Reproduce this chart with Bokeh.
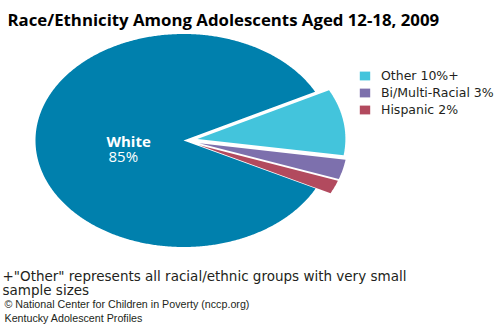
import numpy as np
from bokeh.plotting import figure
from bokeh.models import Range1d, Label, Legend, LegendItem, ColumnDataSource
from bokeh.embed import file_html
from bokeh.resources import INLINE

# ---- data ----
categories = ["White", "Other", "Bi/Multi-Racial", "Hispanic"]
values = [85, 10, 3, 2]
legend_labels = ["Other 10%+", "Bi/Multi-Racial 3%", "Hispanic 2%"]
colors = ["#0080ad", "#43c4dc", "#7d70ad", "#b24a5e"]
explode = [0.0, 0.095, 0.11, 0.11]
draw_order = [1, 2, 3, 0]          # clockwise from the start angle
start_angle_deg = 27.2

title_text = "Race/Ethnicity Among Adolescents Aged 12-18, 2009"
note_lines = ['+"Other" represents all racial/ethnic groups with very small', "sample sizes"]
credit_lines = ["\u00a9 National Center for Children in Poverty (nccp.org)", "Kentucky Adolescent Profiles"]

# ---- layout ----
W, H = 498, 324
CX, CY = 183, 140
RX, RY = 148, 106.5
x0 = -CX / RX
x1 = x0 + W / RX
y1 = CY / RY
y0 = y1 - H / RY

def px(x):
    return x0 + x / RX

def py(y):
    return y1 - y / RY

# ---- wedges as polygons in unit-circle data space ----
xs, ys, fills = [None] * 4, [None] * 4, [None] * 4
a = np.deg2rad(start_angle_deg)
for i in draw_order:
    span = 2 * np.pi * values[i] / sum(values)
    a_end = a - span
    mid = (a + a_end) / 2
    ox, oy = explode[i] * np.cos(mid), explode[i] * np.sin(mid)
    t = np.linspace(a, a_end, max(8, int(np.degrees(span) * 2)))
    xs[i] = [ox] + list(ox + np.cos(t))
    ys[i] = [oy] + list(oy + np.sin(t))
    fills[i] = colors[i]
    a = a_end

src = ColumnDataSource(dict(xs=xs, ys=ys, color=fills, cat=categories))

p = figure(width=W, height=H, output_backend="svg", toolbar_location=None,
           x_range=Range1d(x0, x1), y_range=Range1d(y0, y1), min_border=0)
p.axis.visible = False
p.grid.visible = False
p.outline_line_color = None
p.background_fill_color = "white"

r = p.patches("xs", "ys", source=src, fill_color="color", line_color=None)

legend = Legend(items=[LegendItem(label=legend_labels[k], renderers=[r], index=k + 1) for k in range(3)],
                location=(358, H - 67 - 50), orientation="vertical",
                glyph_width=13, glyph_height=11, label_height=11, spacing=2,
                label_standoff=10, padding=0, margin=0,
                label_text_font="DejaVu Sans", label_text_font_size="12.5px",
                label_text_color="#231f20",
                border_line_alpha=0, background_fill_alpha=0)
p.add_layout(legend, "center")

def add_label(text, x, y, size, font, style="normal", color="#231f20"):
    p.add_layout(Label(x=px(x), y=py(y), text=text, text_font=font, text_font_size=size,
                       text_font_style=style, text_color=color, text_baseline="alphabetic"))

add_label(title_text, 7, 19, "16.8px", "Open Sans", "bold", "#000000")
add_label("White", 106, 140, "15px", "Open Sans", "bold", "white")
add_label("85%", 108, 155, "15px", "Open Sans", "normal", "white")
add_label(note_lines[0], 2, 275, "13.5px", "DejaVu Sans")
add_label(note_lines[1], 2, 289, "13.5px", "DejaVu Sans")
add_label(credit_lines[0], 4, 303, "10.7px", "Liberation Sans")
add_label(credit_lines[1], 4, 317, "10.7px", "Liberation Sans")

open("out.html", "w").write(file_html(p, INLINE))
